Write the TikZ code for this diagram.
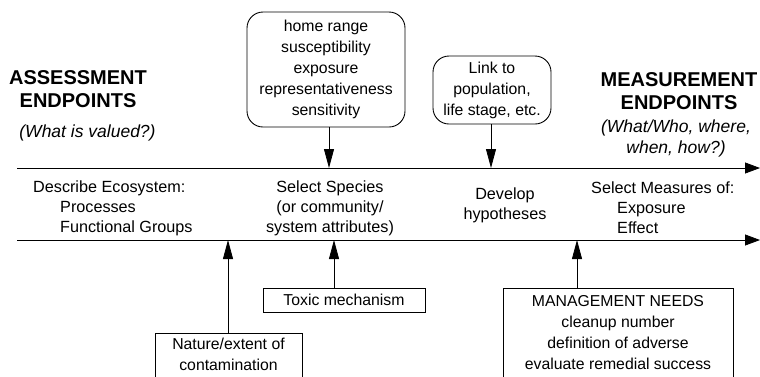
\documentclass[tikz,border=0pt]{standalone}
\usepackage{fontspec}
\setmainfont{Liberation Sans}
\usetikzlibrary{arrows.meta}
\begin{document}
\begin{tikzpicture}[x=1pt,y=-1pt,
  txt/.style={font=\fontsize{15.8}{21}\selectfont, inner sep=0pt, align=center},
  band/.style={font=\fontsize{16.2}{20}\selectfont, inner sep=0pt},
  hd/.style={font=\bfseries\fontsize{20}{23}\selectfont, inner sep=0pt, align=center},
  it/.style={font=\itshape\fontsize{17.5}{21}\selectfont, inner sep=0pt, align=center},
  rbox/.style={txt, draw, line width=0.9pt, rounded corners=16pt},
  sbox/.style={draw, line width=0.9pt, inner sep=0pt},
  varr/.style={line width=0.8pt, -{Triangle[length=19pt,width=10pt]}},
  harr/.style={line width=0.8pt, -{Triangle[length=15pt,width=11pt]}}]
\useasboundingbox (0,0) rectangle (760,376);
\fill[white] (0,0) rectangle (760,376);
\clip (0,0) rectangle (760,376);

% headings
\node[hd] (ae) at (78,89) {ASSESSMENT\\ENDPOINTS};
\node[it] (aq) at (87.5,133) {(What is valued?)};
\node[hd] (me) at (679,91.5) {MEASUREMENT\\ENDPOINTS};
\node[it] (mq) at (676,138) {(What/Who, where,\\when, how?)};

% main lines
\coordinate (l1a) at (17,168);
\coordinate (l1b) at (760,168);
\coordinate (l2a) at (17,240);
\coordinate (l2b) at (760,240);
\draw[harr] (l1a) -- (l1b);
\draw[harr] (l2a) -- (l2b);

% band texts
\node[band, align=left, anchor=west] (de) at (33,208) {Describe Ecosystem:\\\hspace*{27pt}Processes\\\hspace*{27pt}Functional Groups};
\node[band, align=center] (ss) at (330,208) {Select Species\\(or community/\\system attributes)};
\node[band, align=center] (dh) at (505,205) {Develop\\hypotheses};
\node[band, align=left, anchor=west] (sm) at (591,208) {Select Measures of:\\\hspace*{26pt}Exposure\\\hspace*{26pt}Effect};

% top boxes
\node[rbox, minimum width=158pt, minimum height=115pt] (b1) at (326,69.5) {home range\\susceptibility\\exposure\\representativeness\\sensitivity};
\node[rbox, minimum width=118pt, minimum height=68pt] (b2) at (492,90) {Link to\\population,\\life stage, etc.};
\coordinate (t1) at (329,168);
\coordinate (t2) at (491,168);
\draw[varr] (b1.south -| t1) -- (t1);
\draw[varr] (b2.south -| t2) -- (t2);

% bottom boxes
\node[sbox, txt, minimum width=162pt, minimum height=24pt] (tx) at (344,300) {Toxic mechanism};
\coordinate (a3) at (334,240);
\draw[varr] (tx.north -| a3) -- (a3);

\node[sbox, anchor=north west, minimum width=147pt, minimum height=80pt] (nab) at (155,333) {};
\node[txt] (nat) at (228.5,354) {Nature/extent of\\contamination};
\coordinate (a2) at (228,240);
\draw[varr] (nab.north -| a2) -- (a2);

\node[sbox, anchor=north west, minimum width=230pt, minimum height=110pt] (mgb) at (503,288) {};
\node[txt] (mgt) at (618,332.5) {MANAGEMENT NEEDS\\cleanup number\\definition of adverse\\evaluate remedial success};
\coordinate (a4) at (577,240);
\draw[varr] (mgb.north -| a4) -- (a4);
\end{tikzpicture}
\end{document}
